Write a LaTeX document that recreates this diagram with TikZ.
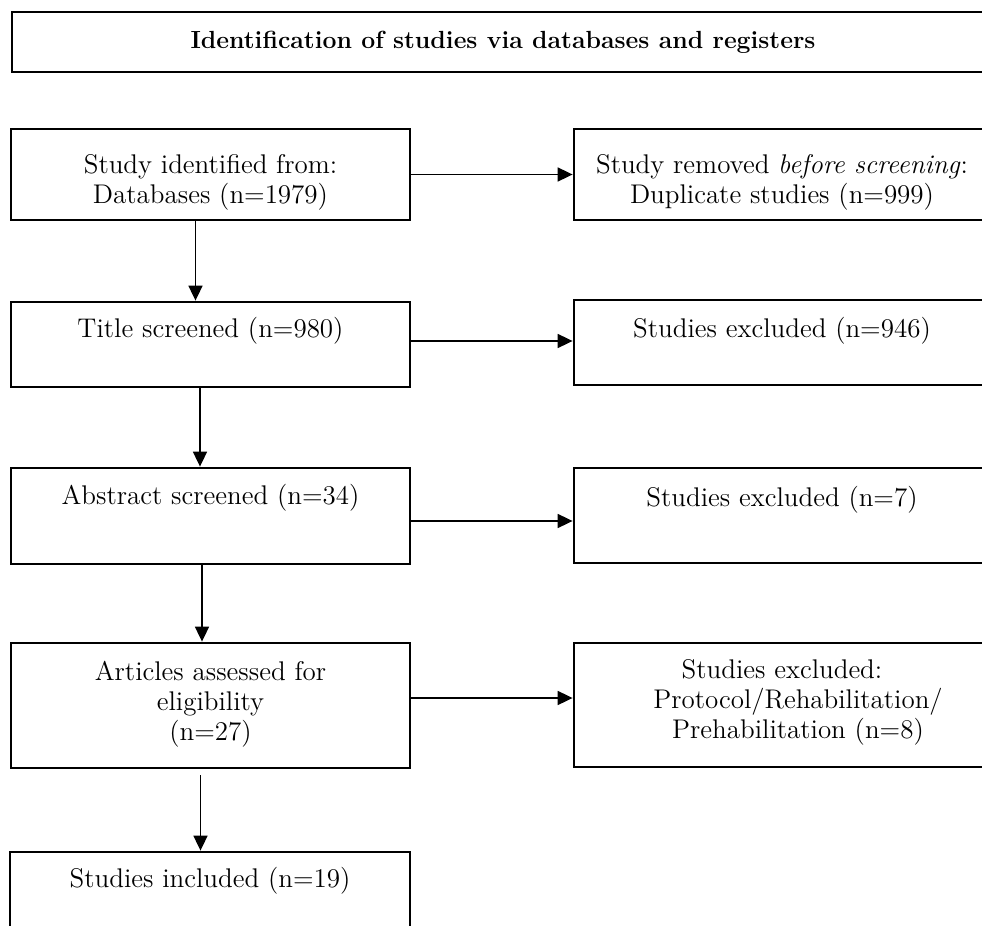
\documentclass[tikz,border=0pt]{standalone}
\usepackage{tikz}
\usetikzlibrary{arrows.meta,positioning}

\begin{document}
\begin{tikzpicture}[x=0.5pt, y=-0.5pt,
  box/.style={draw, line width=1.4pt, inner sep=0pt},
  txt/.style={anchor=north, align=center, inner sep=0pt, font=\fontsize{13.5}{15}\selectfont},
  flow/.style={-{Triangle[length=7.5pt, width=7pt]}, line width=0.9pt}]
  % page 982 x 926 px, 1 px = 0.5 pt
  \useasboundingbox (0,0) rectangle (982,926);
  \clip (0,0) rectangle (982,926);

  % Header
  \node[box, minimum width=491pt, minimum height=30pt, font=\fontsize{12.4}{15}\selectfont\bfseries] (head) at (503,42) {Identification of studies via databases and registers};

  % Left column
  \node[box, minimum width=199.5pt, minimum height=45.5pt] (ident) at (210.5,174.5) {};
  \node[txt, below=13pt of ident.north] (identtxt) {Study identified from:\\Databases (n=1979)};

  \node[box, minimum width=199.5pt, minimum height=42.5pt] (title) at (210.5,344.5) {};
  \node[txt, below=8pt of title.north] (titletxt) {Title screened (n=980)};

  \node[box, minimum width=199.5pt, minimum height=48pt] (abstr) at (210.5,516) {};
  \node[txt, below=8.5pt of abstr.north] (abstrtxt) {Abstract screened (n=34)};

  \node[box, minimum width=199.5pt, minimum height=62.5pt] (elig) at (210.5,705.5) {};
  \node[txt, below=9.5pt of elig.north] (eligtxt) {Articles assessed for\\eligibility\\(n=27)};

  \node[box, minimum width=200pt, minimum height=49pt] (incl) at (210,901) {};
  \node[txt, below=8pt of incl.north] (incltxt) {Studies included (n=19)};

  % Right column (cut by the page edge)
  \node[box, minimum width=208pt, minimum height=45.5pt] (dup) at (782,174.5) {};
  \node[txt, below=13pt of dup.north] (duptxt) {Study removed \textit{before screening}:\\Duplicate studies (n=999)};

  \node[box, minimum width=208pt, minimum height=42.5pt] (exclA) at (782,342.5) {};
  \node[txt, below=9pt of exclA.north] (exclAtxt) {Studies excluded (n=946)};

  \node[box, minimum width=208pt, minimum height=47.5pt] (exclB) at (782,515.5) {};
  \node[txt, below=9.5pt of exclB.north] (exclBtxt) {Studies excluded (n=7)};

  \node[box, minimum width=208pt, minimum height=62pt] (exclC) at (782,705) {};
  \node[txt, below=8.5pt of exclC.north] (exclCtxt) {Studies excluded:\\\hspace*{16pt}Protocol/Rehabilitation/\\\hspace*{16pt}Prehabilitation (n=8)};

  % Downward flow
  \draw[flow] ([xshift=-7.5pt]ident.south) -- ([xshift=-7.5pt]title.north);
  \draw[flow] ([xshift=-5.25pt]title.south) -- ([xshift=-5.25pt]abstr.north);
  \draw[flow] ([xshift=-4.25pt]abstr.south) -- ([xshift=-4.25pt]elig.north);
  \draw[flow] ([xshift=-5pt,yshift=-3pt]elig.south) -- ([xshift=-4.75pt]incl.north);

  % Exclusions
  \draw[flow] (ident.east) -- (dup.west);
  \draw[flow] ([yshift=1.75pt]title.east) -- ([yshift=0.75pt]exclA.west);
  \draw[flow] ([yshift=-2.5pt]abstr.east) -- ([yshift=-2.75pt]exclB.west);
  \draw[flow] ([yshift=3.75pt]elig.east) -- ([yshift=3.5pt]exclC.west);
\end{tikzpicture}
\end{document}
